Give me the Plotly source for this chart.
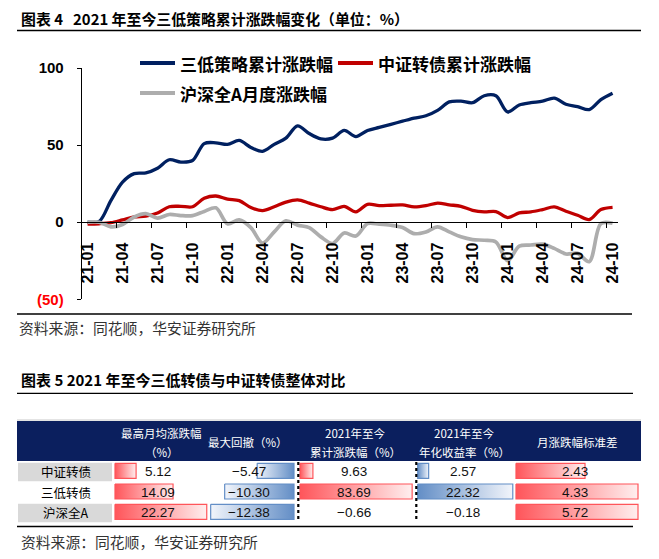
import plotly.graph_objects as go

# ---------------- data ----------------
months = ["21-01","21-02","21-03","21-04","21-05","21-06","21-07","21-08","21-09","21-10","21-11","21-12",
          "22-01","22-02","22-03","22-04","22-05","22-06","22-07","22-08","22-09","22-10","22-11","22-12",
          "23-01","23-02","23-03","23-04","23-05","23-06","23-07","23-08","23-09","23-10","23-11","23-12",
          "24-01","24-02","24-03","24-04","24-05","24-06","24-07","24-08","24-09","24-10"]

sandi_cum = [0, 0.5, 14, 26, 31.5, 32, 35, 40.5, 39, 40, 51, 51.5,
             50.5, 53, 48.5, 46, 50.5, 54.5, 62.5, 57.5, 54, 54.5, 59.5, 55.5,
             59.5, 61.5, 63.5, 65.5, 67.5, 69, 72.5, 78, 78.5, 77.5, 82, 82,
             71.5, 76, 77.5, 78.5, 80.5, 76.5, 75, 73, 79.5, 83.69]
zz_cum = [-1.3, -1, -0.3, 1.5, 3.4, 4, 6, 10, 10.3, 10, 15.5, 17,
          15, 14, 9.5, 7.5, 10, 13, 14.5, 12.4, 10, 8.2, 10.3, 6.7,
          11.6, 10.7, 11, 11.2, 9.9, 10.7, 12.4, 11.3, 10.3, 7.7, 6.7, 6.9,
          3, 6, 6.7, 8.2, 9.9, 7.1, 4.5, 1.7, 8.2, 9.63]
hs_a = [0, 0, -3, -1.5, 3.4, 5.5, 2.6, 5, 4.3, 4.3, 7, 9.3,
        -1, 1.5, -3.5, -13.5, -6.3, 0.9, -1.9, -3.5, -9.5, -13.8, -7, -9,
        -0.9, -1.3, -2, -3.5, -7.4, -6.3, -3, -6.3, -9.5, -11.3, -11.7, -12.8,
        -25, -15.5, -14.8, -14.2, -17, -20.6, -20.2, -25.6, -0.9, -0.66]

series_names = ["三低策略累计涨跌幅", "中证转债累计涨跌幅", "沪深全A月度涨跌幅"]
y_ticks = [-50, 0, 50, 100]
y_ticklabels = ["<span style='color:#FF0000'>(50)</span>", "0", "50", "100"]

row_names = ["中证转债", "三低转债", "沪深全A"]
max_monthly = [5.12, 14.09, 22.27]
max_drawdown = [-5.47, -10.30, -12.38]
cum_return = [9.63, 83.69, -0.66]
ann_return = [2.57, 22.32, -0.18]
monthly_std = [2.43, 4.33, 5.72]

NB = "\u00a0"
title1 = f"图表{NB}4{NB}{NB}{NB}2021{NB}年至今三低策略累计涨跌幅变化（单位：%）"
title2 = f"图表{NB}5{NB}2021{NB}年至今三低转债与中证转债整体对比"
source = "资料来源：同花顺，华安证券研究所"

# ---------------- layout constants ----------------
W, H = 659, 559
def py(p):
    return 1 - p / H

X0, X1 = 81.7, 618.4
Y_TOP, Y_BOT = 68.0, 299.3
NAVY = "#002060"
RED = "#C00000"
GRAY = "#ADADAD"
CJK = "Noto Sans CJK SC"
NUM = "Liberation Sans"

fig = go.Figure()
xs = list(range(len(months)))
for vals, name, col, wd in [(sandi_cum, series_names[0], NAVY, 3.3),
                            (zz_cum, series_names[1], RED, 3.3),
                            (hs_a, series_names[2], GRAY, 3.7)]:
    fig.add_trace(go.Scatter(x=xs, y=vals, name=name, mode="lines",
                             line=dict(color=col, width=wd, shape="spline", smoothing=0.9),
                             xaxis="x", yaxis="y", hoverinfo="skip", showlegend=False))

y_bot_frac, y_top_frac = py(Y_BOT), py(Y_TOP)
zero_frac = y_bot_frac + (0 - (-50)) / 150 * (y_top_frac - y_bot_frac)

# ---------------- table ----------------
row_tops = [463.3, 484.0, 504.3]
bar_h = 15
row_centers = [t + bar_h / 2 for t in row_tops]
RED_S, RED_L = "#FF555A", "#FFEFEF"
BLUE_S, BLUE_L = "#638EC6", "#F2F5FB"

columns = [
    dict(vals=max_monthly, axis=115.0, scale=4.12, cap=95, kind="red", tx=158),
    dict(vals=max_drawdown, axis=294.0, scale=6.73, cap=86, kind="blue", tx=249),
    dict(vals=cum_return, axis=300.0, scale=1.34, cap=114, kind="red", tx=354),
    dict(vals=ann_return, axis=417.7, scale=4.26, cap=96, kind="blue", tx=463),
    dict(vals=monthly_std, axis=516.0, scale=28.4, cap=122, kind="red", tx=575),
]

shapes = []
annotations = []

def shp(**kw):
    d = dict(xref="x2", yref="y2")
    d.update(kw)
    shapes.append(d)

def txt(x, y, s, size, color="black", xanchor="center", family=CJK):
    annotations.append(dict(x=x, y=y, xref="x2", yref="y2", text=s, showarrow=False,
                            xanchor=xanchor, yanchor="middle",
                            font=dict(family=family, size=size, color=color)))

for col in columns:
    strong = RED_S if col["kind"] == "red" else BLUE_S
    light = RED_L if col["kind"] == "red" else BLUE_L
    for r, v in enumerate(col["vals"]):
        length = min(abs(v) * col["scale"], col["cap"])
        if length < 2:
            continue
        if v >= 0:
            a, b = col["axis"], col["axis"] + length
            cs = [[0, strong], [1, light]]
        else:
            a, b = col["axis"] - length, col["axis"]
            cs = [[0, light], [1, strong]]
        t, btm = row_tops[r], row_tops[r] + bar_h
        fig.add_trace(go.Scatter(x=[a, b, b, a, a], y=[t, t, btm, btm, t], mode="lines",
                                 fill="toself",
                                 fillgradient=dict(type="horizontal", colorscale=cs),
                                 line=dict(color=strong, width=1.2),
                                 xaxis="x2", yaxis="y2", hoverinfo="skip", showlegend=False))
    for r, v in enumerate(col["vals"]):
        s = f"{v:.2f}".replace("-", "−")
        txt(col["tx"], row_centers[r] + 0.5, s, 13.5, "#111111", family=NUM)

# header band & row labels
shp(type="line", x0=17, x1=641, y0=420, y1=420, line=dict(color="#C8C8C8", width=1), layer="below")
shp(type="rect", x0=17, x1=641, y0=421, y1=461, fillcolor="#0B1F5E", line=dict(width=0), layer="below")
for r, name in enumerate(row_names):
    if r != 1:
        shp(type="rect", x0=18, x1=112, y0=row_tops[r] - 0.6, y1=row_tops[r] + 18, fillcolor="#D9D9D9",
            line=dict(width=0), layer="below")
    txt(66, row_centers[r] + 1, name, 12.5)

for ax in (298.3, 416.3):
    shp(type="line", x0=ax, x1=ax, y0=462, y1=521, line=dict(color="black", width=2.2, dash="dot"))

hdr = "#FFFFFF"
txt(161.7, 433, "最高月均涨跌幅", 11.5, hdr)
txt(161.7, 452, "（%）", 11.5, hdr)
txt(248, 441.5, "最大回撤（%）", 11.5, hdr)
txt(355, 433, "2021年至今", 11.5, hdr)
txt(355, 452, "累计涨跌幅（%）", 11.5, hdr)
txt(464, 433, "2021年至今", 11.5, hdr)
txt(464, 452, "年化收益率（%）", 11.5, hdr)
txt(577, 441.5, "月涨跌幅标准差", 11.5, hdr)

# titles, rules, sources
txt(19, 18.3, "<b>" + title1 + "</b>", 14.9, xanchor="left")
shp(type="line", x0=17, x1=641, y0=30.5, y1=30.5, line=dict(color="black", width=1.3))
shp(type="line", x0=17, x1=632, y0=314, y1=314, line=dict(color="black", width=1.3))
txt(17, 327, source, 14.8, "#333333", xanchor="left")
txt(19, 379, "<b>" + title2 + "</b>", 15, xanchor="left")
shp(type="line", x0=17, x1=633, y0=393.3, y1=393.3, line=dict(color="black", width=1.3))
shp(type="line", x0=17, x1=633, y0=526.5, y1=526.5, line=dict(color="black", width=1.5))
txt(19, 541, source, 14.8, "#333333", xanchor="left")

# legend (manual)
legend_items = [(140, 63, NAVY, series_names[0]), (338, 63, RED, series_names[1]), (140, 93, GRAY, series_names[2])]
for lx, ly, c, name in legend_items:
    shp(type="line", x0=lx, x1=lx + 35, y0=ly, y1=ly, line=dict(color=c, width=4))
    txt(lx + 38, ly, "<b>" + name + "</b>", 17, xanchor="left")

fig.update_layout(
    width=W, height=H, margin=dict(l=0, r=0, t=0, b=0, pad=0, autoexpand=False),
    paper_bgcolor="white", plot_bgcolor="rgba(0,0,0,0)",
    showlegend=False,
    xaxis=dict(domain=[X0 / W, X1 / W], range=[-0.5, 45.5], anchor="free", position=zero_frac,
               tickmode="array", tickvals=list(range(0, len(months), 3)),
               ticktext=[months[i] for i in range(0, len(months), 3)],
               tickangle=-90, ticks="", showline=True, linecolor="black", linewidth=1,
               showgrid=False, zeroline=False, ticklabelstandoff=13, automargin=False,
               tickfont=dict(family=NUM, size=16, color="black", weight="bold"),
               minor=dict(tickmode="linear", tick0=-0.5, dtick=3, ticks="outside", ticklen=5,
                          tickcolor="black", tickwidth=1, showgrid=False),
               fixedrange=True),
    yaxis=dict(domain=[y_bot_frac, y_top_frac], range=[-50, 100], anchor="x",
               tickmode="array", tickvals=y_ticks, ticktext=y_ticklabels,
               ticks="outside", ticklen=4, tickcolor="black", showline=True, linecolor="black",
               linewidth=1, showgrid=False, zeroline=False, ticklabelstandoff=10, automargin=False,
               tickfont=dict(family=NUM, size=15, color="black", weight="bold"), fixedrange=True),
    xaxis2=dict(domain=[0, 1], range=[0, W], anchor="y2", visible=False, fixedrange=True, automargin=False),
    yaxis2=dict(domain=[0, 1], range=[H, 0], anchor="x2", visible=False, fixedrange=True, automargin=False),
    shapes=shapes, annotations=annotations,
)

fig.write_html("out.html", config={"displayModeBar": False},
               post_script="document.body.style.margin='0px';document.body.style.overflow='hidden';")
